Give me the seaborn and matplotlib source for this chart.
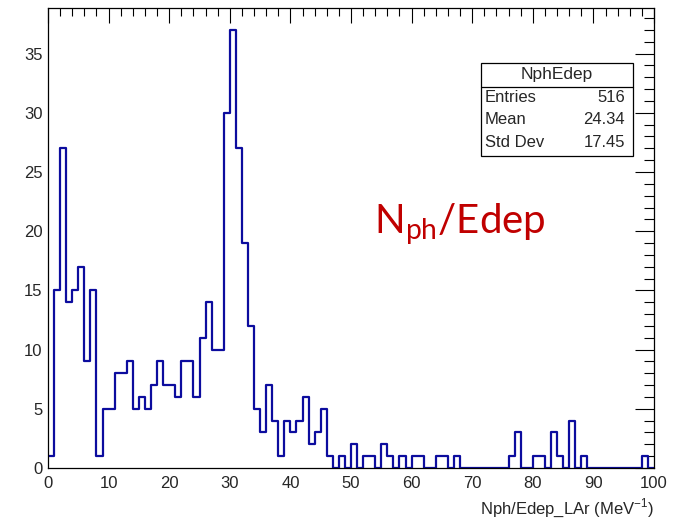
import numpy as np
import pandas as pd
import matplotlib
matplotlib.use("Agg")
import matplotlib.pyplot as plt
import seaborn as sns
from matplotlib import font_manager
from matplotlib.patches import Rectangle
from matplotlib.lines import Line2D
from matplotlib.ticker import MultipleLocator

# ---------------- data ----------------
hist_name = "NphEdep"
x_low, x_high, n_bins = 0, 100, 100
counts = [
    1, 15, 27, 14, 15, 17, 9, 15, 1, 5,      # 0-9
    5, 8, 8, 9, 5, 6, 5, 7, 9, 7,            # 10-19
    7, 6, 9, 9, 6, 11, 14, 10, 10, 30,       # 20-29
    37, 27, 19, 12, 5, 3, 7, 4, 1, 4,        # 30-39
    3, 4, 6, 2, 3, 5, 1, 0, 1, 0,            # 40-49
    2, 0, 1, 1, 0, 2, 1, 0, 1, 0,            # 50-59
    1, 1, 0, 0, 1, 1, 0, 1, 0, 0,            # 60-69
    0, 0, 0, 0, 0, 0, 1, 3, 0, 0,            # 70-79
    1, 1, 0, 3, 1, 0, 4, 0, 1, 0,            # 80-89
    0, 0, 0, 0, 0, 0, 0, 0, 1, 0,            # 90-99
]
stat_names = ["Entries", "Mean", "Std Dev"]
stat_values = ["516", "24.34", "17.45"]
x_label = r"Nph/Edep_LAr (MeV$^{\mathregular{-1}}$)"
x_ticks = [0, 10, 20, 30, 40, 50, 60, 70, 80, 90, 100]
y_ticks = [0, 5, 10, 15, 20, 25, 30, 35]

# ---------------- style ----------------
sns.set_style("white")
installed = {f.name for f in font_manager.fontManager.ttflist}
narrow = "Liberation Sans Narrow" if "Liberation Sans Narrow" in installed else "Liberation Sans"
plt.rcParams["font.family"] = ["Liberation Sans", "DejaVu Sans"]

W, H = 687, 522
fig = plt.figure(figsize=(W / 100, H / 100), dpi=100)
L, R, T, B = 48, 654, 8, 468
ax = fig.add_axes([L / W, 1 - B / H, (R - L) / W, (B - T) / H])

edges = [float(e) for e in np.linspace(x_low, x_high, n_bins + 1)]
centers = [(a + b) / 2 for a, b in zip(edges[:-1], edges[1:])]
df = pd.DataFrame({"x": centers, "w": counts})
sns.histplot(data=df, x="x", weights="w", bins=edges, element="step",
             fill=False, color="#0c0c9e", linewidth=1.6, ax=ax)

ax.set_xlim(x_low, x_high)
ax.set_ylim(0, max(counts) * 1.05)
ax.set_xticks(x_ticks)
ax.set_yticks(y_ticks)
ax.xaxis.set_minor_locator(MultipleLocator(2))
ax.yaxis.set_minor_locator(MultipleLocator(1))
ax.set_xlabel("")
ax.set_ylabel("")
for s in ax.spines.values():
    s.set_visible(True)
    s.set_color("black")
    s.set_linewidth(0.9)

ax.tick_params(axis="both", which="both", direction="in", top=True, right=True,
               color="black", width=0.8)
ax.tick_params(axis="x", which="major", length=10.5, pad=6)
ax.tick_params(axis="x", which="minor", length=5.5)
ax.tick_params(axis="y", which="major", length=13.5, pad=4)
ax.tick_params(axis="y", which="minor", length=7.5)
for lab in ax.get_xticklabels() + ax.get_yticklabels():
    lab.set_fontfamily(narrow)
    lab.set_fontsize(12)

def fx(px):
    return px / W

def fy(py):
    return 1 - py / H

# x axis title (right aligned like ROOT)
fig.text(fx(654), fy(508), x_label, ha="right", va="center", fontsize=12)

# stats box
bx0, bx1, by0, by1, bsep = 480.5, 632.5, 62.5, 156, 86.5
fig.patches.append(Rectangle((fx(bx0), fy(by1)), fx(bx1) - fx(bx0), fy(by0) - fy(by1),
                             transform=fig.transFigure, facecolor="white",
                             edgecolor="black", linewidth=0.9, zorder=5))
fig.lines.append(Line2D([fx(bx0), fx(bx1)], [fy(bsep), fy(bsep)],
                        transform=fig.transFigure, color="black", linewidth=0.9, zorder=6))
fig.text(fx((bx0 + bx1) / 2), fy(74.5), hist_name, ha="center", va="center",
         fontsize=12.5, zorder=7)
row_y = [97.5, 120, 142]
for nm, val, yy in zip(stat_names, stat_values, row_y):
    fig.text(fx(485), fy(yy), nm, ha="left", va="center", fontsize=12, zorder=7)
    fig.text(fx(625), fy(yy), val, ha="right", va="center", fontsize=12, zorder=7)

# red annotation
fig.text(fx(374), fy(233), r"N$_{\mathregular{ph}}$/Edep", ha="left", va="baseline",
         fontsize=29, color="#c00000", family=["Lato", "DejaVu Sans"])

fig.savefig("out.png", dpi=100)
